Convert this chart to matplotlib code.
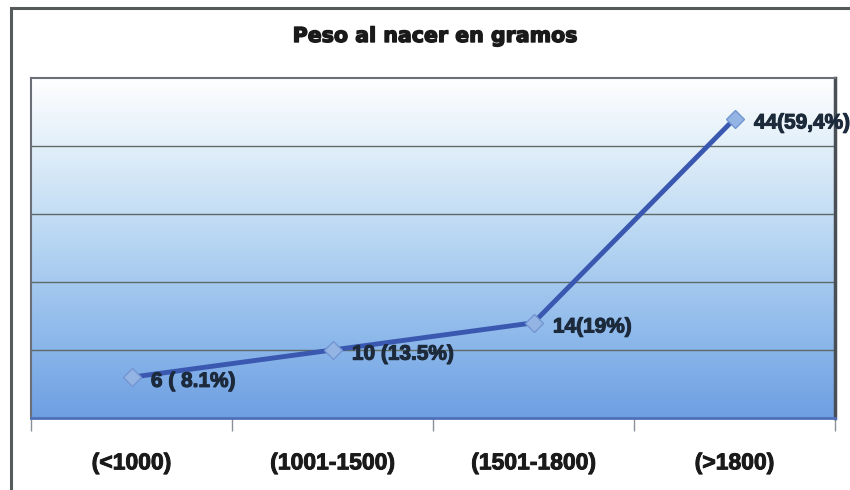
import numpy as np
import matplotlib
matplotlib.use("Agg")
import matplotlib.pyplot as plt
import matplotlib.patheffects as pe
from matplotlib.colors import LinearSegmentedColormap
from matplotlib.patches import Rectangle

categories = ["(<1000)", "(1001-1500)", "(1501-1800)", "(>1800)"]
counts = [6, 10, 14, 44]
labels = ["6 ( 8.1%)", "10 (13.5%)", "14(19%)", "44(59,4%)"]
title = "Peso al nacer en gramos"

plt.rcParams['font.family'] = ['Liberation Sans', 'DejaVu Sans']

fig = plt.figure(figsize=(8.5, 4.9), dpi=100)
fig.patch.set_facecolor("white")

# outer chart frame
fig.patches.append(Rectangle((11/850, -0.02), 1.0, (490-8)/490 + 0.02,
                             transform=fig.transFigure, fill=False,
                             edgecolor="#555a5a", linewidth=2.2))

ax = fig.add_axes([31/850, 72/490, 804/850, 340/490])
ax.set_xlim(-0.5, 3.5)
ax.set_ylim(0, 50)

# plot area gradient, white at top to blue at bottom
cmap = LinearSegmentedColormap.from_list(
    "bg", [(0.0, "#6e9fe2"), (0.25, "#8fbaeb"), (0.55, "#bcd9f3"),
           (0.8, "#e2eff9"), (1.0, "#ffffff")])
grad = np.linspace(0, 1, 256).reshape(-1, 1)
ax.imshow(grad, cmap=cmap, aspect="auto", origin="lower",
          extent=(-0.5, 3.5, 0, 50), zorder=0)

for yv in [10, 20, 30, 40]:
    ax.axhline(yv, color="#5f6b66", linewidth=1.0, zorder=1)

x = np.arange(len(categories))
ax.plot(x, counts, color="#3a58b0", linewidth=3.5, zorder=3,
        marker="D", markersize=9, markerfacecolor="#94b4e4",
        markeredgecolor="#7396d2", markeredgewidth=1)

heavy = [pe.withStroke(linewidth=0.8, foreground="#1c2a3c")]
for xi, yi, lab in zip(x, counts, labels):
    ax.annotate(lab, (xi, yi), xytext=(14, -3), textcoords="offset points",
                ha="left", va="center", fontsize=15, fontweight="bold",
                color="#1c2a3c", zorder=4, annotation_clip=False,
                path_effects=heavy)

ax.set_xticks(x)
ax.set_xticklabels(categories, fontsize=16.5, fontweight="bold", color="#1a1a1a",
                   path_effects=[pe.withStroke(linewidth=0.7, foreground="#1a1a1a")])
ax.tick_params(axis="x", which="major", length=0, pad=24)
ax.set_xticks(np.arange(-0.5, 4.0, 1.0), minor=True)
ax.tick_params(axis="x", which="minor", length=9, width=1, color="#8a9099",
               direction="out")
ax.set_yticks([])

for side in ["top", "left"]:
    ax.spines[side].set_color("#6a6f78")
    ax.spines[side].set_linewidth(1.5)
ax.spines["right"].set_color("#4a4f55")
ax.spines["right"].set_linewidth(2.5)
ax.spines["bottom"].set_color("#4f70b8")
ax.spines["bottom"].set_linewidth(2)

fig.text(435/850, 1 - 42/490, title, ha="center", va="baseline",
         fontsize=14.8, fontweight="bold", color="#1a1a1a", family="DejaVu Sans",
         path_effects=[pe.withStroke(linewidth=1.0, foreground="#1a1a1a")])

fig.savefig("out.png", dpi=100, facecolor="white")
